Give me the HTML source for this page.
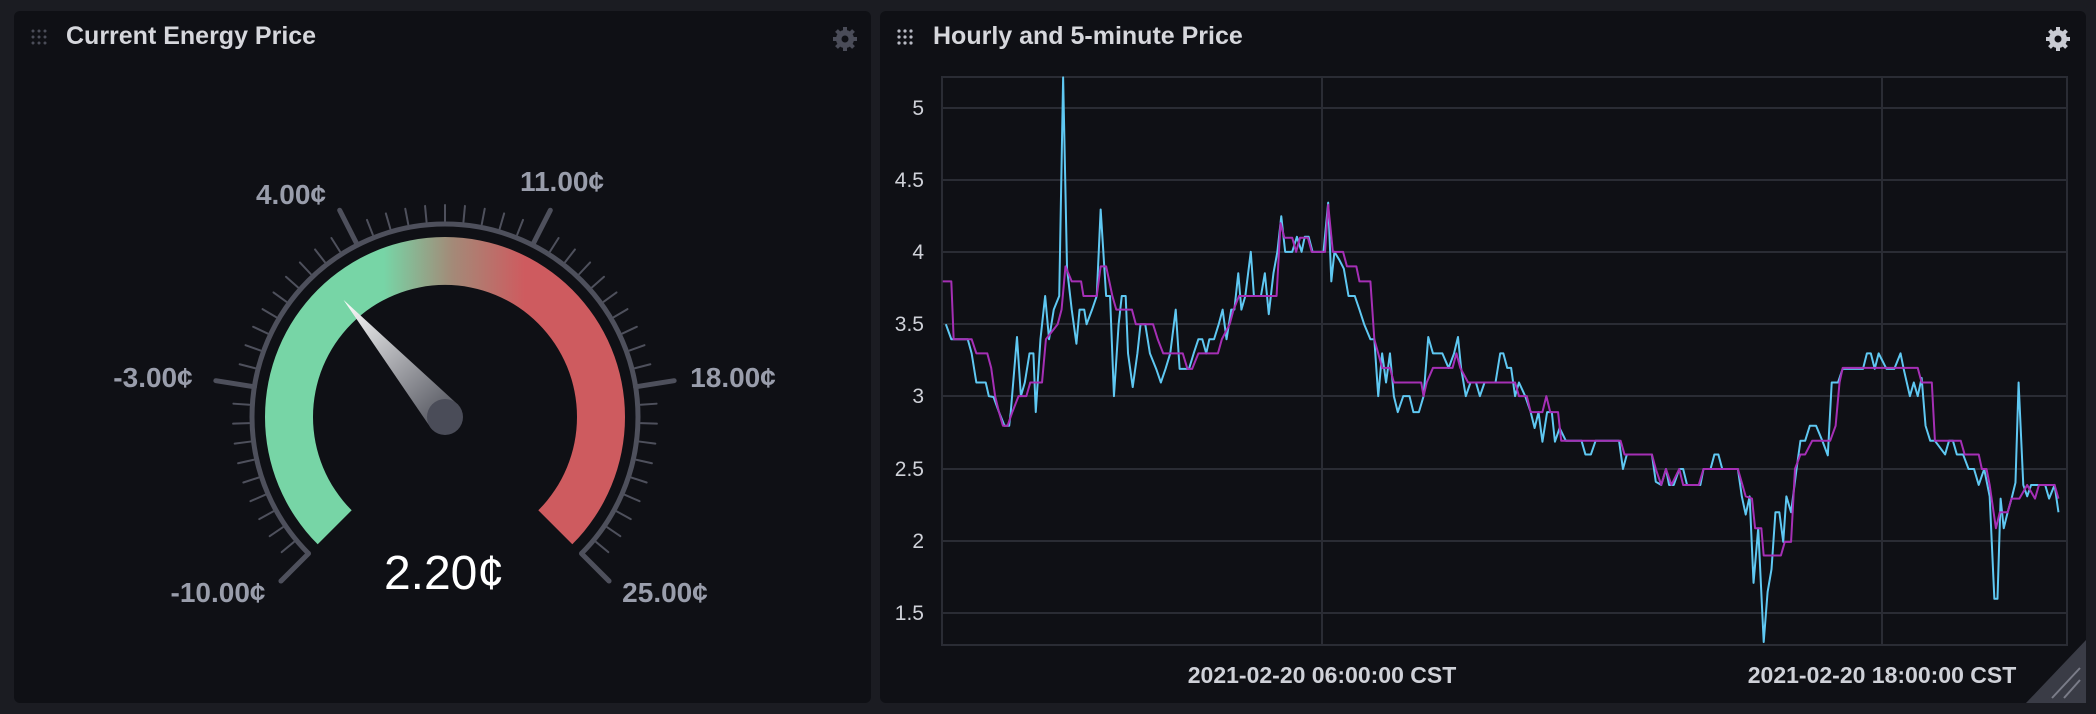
<!DOCTYPE html>
<html><head><meta charset="utf-8">
<style>
html,body{margin:0;padding:0;background:#1b1c22;width:2096px;height:714px;overflow:hidden;font-family:"Liberation Sans",sans-serif;}
.panel{position:absolute;background:#0f1015;border-radius:6px;}
.title{position:absolute;color:#d6d7dc;font-weight:bold;font-size:25px;}
svg{position:absolute;left:0;top:0;}
</style></head><body>
<div class="panel" style="left:14px;top:11px;width:857px;height:692px;"></div>
<div class="panel" style="left:880px;top:11px;width:1206px;height:692px;"></div>
<div class="title" style="left:66px;top:22px;">Current Energy Price</div>
<div class="title" style="left:933px;top:22px;">Hourly and 5-minute Price</div>

<svg width="2096" height="714" viewBox="0 0 2096 714">
<defs>
<linearGradient id="band" gradientUnits="userSpaceOnUse" x1="265" y1="0" x2="625" y2="0">
<stop offset="0" stop-color="#77d5a6"/><stop offset="0.33" stop-color="#77d5a6"/>
<stop offset="0.52" stop-color="#a38a78"/><stop offset="0.72" stop-color="#ce5b5f"/><stop offset="1" stop-color="#ce5b5f"/>
</linearGradient>
<linearGradient id="ndl" gradientUnits="userSpaceOnUse" x1="343" y1="300" x2="455" y2="430">
<stop offset="0" stop-color="#ffffff"/><stop offset="1" stop-color="#464852"/>
</linearGradient>
</defs>
<g fill="#4a4c58">
<circle cx="33" cy="31" r="1.5"/><circle cx="39" cy="31" r="1.5"/><circle cx="45" cy="31" r="1.5"/>
<circle cx="33" cy="37" r="1.5"/><circle cx="39" cy="37" r="1.5"/><circle cx="45" cy="37" r="1.5"/>
<circle cx="33" cy="43" r="1.5"/><circle cx="39" cy="43" r="1.5"/><circle cx="45" cy="43" r="1.5"/>
</g>
<g fill="#b8bac4">
<circle cx="899" cy="31" r="1.6"/><circle cx="905" cy="31" r="1.6"/><circle cx="911" cy="31" r="1.6"/>
<circle cx="899" cy="37" r="1.6"/><circle cx="905" cy="37" r="1.6"/><circle cx="911" cy="37" r="1.6"/>
<circle cx="899" cy="43" r="1.6"/><circle cx="905" cy="43" r="1.6"/><circle cx="911" cy="43" r="1.6"/>
</g>
<g fill="#4a4c58"><circle cx="845" cy="39" r="9"/></g>
<g stroke="#4a4c58" stroke-width="4"><line x1="845" y1="27" x2="845" y2="51"/><line x1="833" y1="39" x2="857" y2="39"/><line x1="836.5" y1="30.5" x2="853.5" y2="47.5"/><line x1="853.5" y1="30.5" x2="836.5" y2="47.5"/></g>
<circle cx="845" cy="39" r="3.5" fill="#0f1015"/>
<g fill="#c9cbd3"><circle cx="2058" cy="39" r="9"/></g>
<g stroke="#c9cbd3" stroke-width="4"><line x1="2058" y1="27" x2="2058" y2="51"/><line x1="2046" y1="39" x2="2070" y2="39"/><line x1="2049.5" y1="30.5" x2="2066.5" y2="47.5"/><line x1="2066.5" y1="30.5" x2="2049.5" y2="47.5"/></g>
<circle cx="2058" cy="39" r="3.5" fill="#0f1015"/>

<path d="M317.7,544.3 A180,180 0 1 1 572.3,544.3 L538.3,510.3 A132,132 0 1 0 351.7,510.3 Z" fill="url(#band)"/>
<path d="M308.5,553.5 A193,193 0 1 1 581.5,553.5" fill="none" stroke="#4e505c" stroke-width="5"/>
<g id="ticks" stroke="#4e505c" stroke-linecap="round"></g>
<polygon points="343.5,299.9 458.6,405.2 431.4,428.8" fill="url(#ndl)"/>
<circle cx="445" cy="417" r="18" fill="#4a4c58"/>
<g font-family="Liberation Sans, sans-serif" font-weight="bold" font-size="28" fill="#999dab" text-anchor="middle">
<text x="218" y="602">-10.00¢</text>
<text x="153" y="387">-3.00¢</text>
<text x="291" y="204">4.00¢</text>
<text x="562" y="191">11.00¢</text>
<text x="733" y="387">18.00¢</text>
<text x="665" y="602">25.00¢</text>
</g>
<text x="444" y="589" font-family="Liberation Sans, sans-serif" font-size="48" fill="#ffffff" text-anchor="middle">2.20¢</text>

<g stroke="#2a2c34" stroke-width="2">
<line x1="942" y1="108" x2="2067" y2="108"/><line x1="942" y1="180" x2="2067" y2="180"/>
<line x1="942" y1="252" x2="2067" y2="252"/><line x1="942" y1="324" x2="2067" y2="324"/>
<line x1="942" y1="396" x2="2067" y2="396"/><line x1="942" y1="469" x2="2067" y2="469"/>
<line x1="942" y1="541" x2="2067" y2="541"/><line x1="942" y1="613" x2="2067" y2="613"/>
<line x1="1322" y1="77" x2="1322" y2="645"/><line x1="1882" y1="77" x2="1882" y2="645"/>
<rect x="942" y="77" width="1125" height="568" fill="none"/>
</g>
<g font-family="Liberation Sans, sans-serif" font-size="21" fill="#cfd1d8" text-anchor="end">
<text x="924" y="115">5</text><text x="924" y="187">4.5</text><text x="924" y="259">4</text>
<text x="924" y="331">3.5</text><text x="924" y="403">3</text><text x="924" y="476">2.5</text>
<text x="924" y="548">2</text><text x="924" y="620">1.5</text>
</g>
<g font-family="Liberation Sans, sans-serif" font-weight="bold" font-size="23" fill="#cfd1d8" text-anchor="middle">
<text x="1322" y="683">2021-02-20 06:00:00 CST</text>
<text x="1882" y="683">2021-02-20 18:00:00 CST</text>
</g>
<polygon points="2086,640 2086,703 2026,703" fill="#3a3c46"/>
<g stroke="#7a7c88" stroke-width="2"><line x1="2052" y1="698" x2="2080" y2="668"/><line x1="2064" y1="698" x2="2080" y2="680"/></g>
</svg>

<svg width="1226" height="714" viewBox="0 0 1568 1568" preserveAspectRatio="none" style="left:870px;top:0;">
<polyline fill="none" stroke="#5fc8f2" stroke-width="2" vector-effect="non-scaling-stroke" stroke-linejoin="round" points="97,712 104,745 125,745 130,776 136,840 148,840 152,870 158,872 165,905 172,935 178,935 180,905 188,740 193,870 198,840 204,776 209,776 212,905 218,745 224,650 229,745 235,680 242,650 247,170 252,590 258,680 264,755 268,680 274,680 277,712 284,680 290,650 295,460 302,650 307,650 312,870 318,712 322,650 327,650 330,776 336,850 342,776 346,712 352,712 358,776 366,810 372,840 378,810 384,776 391,680 396,810 402,810 408,810 414,776 420,745 425,745 430,776 434,745 440,745 446,712 451,680 456,745 462,680 466,680 471,600 475,680 480,650 487,553 491,650 500,650 505,600 510,690 516,600 521,553 526,475 531,553 540,553 546,520 552,553 556,520 561,520 566,553 580,553 586,445 590,618 594,553 600,570 606,590 612,650 620,650 626,680 632,712 640,745 645,745 650,870 655,776 660,840 665,776 670,870 675,905 682,870 690,870 695,905 702,905 708,870 714,740 720,776 732,776 740,808 747,776 752,740 756,808 762,870 768,840 775,840 780,870 786,840 800,840 806,776 810,776 815,808 820,808 825,870 830,840 838,870 845,905 850,940 855,905 860,970 866,905 872,905 876,970 882,940 890,968 910,968 915,998 922,998 928,968 958,968 963,1030 968,998 1000,998 1005,1058 1012,1065 1018,1030 1022,1065 1028,1065 1035,1030 1040,1030 1045,1065 1062,1065 1066,1030 1075,1030 1080,998 1085,998 1090,1030 1110,1030 1115,1090 1120,1130 1125,1090 1130,1280 1136,1160 1143,1410 1148,1300 1153,1250 1158,1125 1163,1125 1168,1190 1172,1090 1178,1125 1185,1030 1190,968 1196,968 1202,935 1210,935 1218,968 1225,1000 1230,840 1238,840 1244,810 1270,810 1275,776 1280,776 1285,810 1290,776 1300,810 1310,810 1318,776 1322,810 1330,870 1335,840 1340,870 1345,830 1350,935 1356,968 1362,968 1375,998 1380,968 1385,968 1390,998 1398,998 1405,1030 1412,1030 1418,1065 1425,1030 1432,1090 1438,1315 1442,1315 1446,1095 1450,1160 1455,1125 1460,1095 1465,1060 1469,840 1475,1065 1480,1090 1485,1065 1495,1065 1503,1065 1508,1095 1515,1065 1520,1125"/>
<polyline fill="none" stroke="#a52fb5" stroke-width="2" vector-effect="non-scaling-stroke" stroke-linejoin="round" points="93,618 104,618 107,745 130,745 136,776 150,776 155,808 160,870 165,905 170,935 176,935 182,905 190,870 200,870 205,840 220,840 225,745 240,712 245,680 250,585 258,618 270,618 273,650 290,650 295,585 302,585 310,650 315,680 335,680 340,712 362,712 368,745 375,776 400,776 406,810 412,810 420,776 445,776 450,745 460,712 465,680 472,650 520,650 525,490 530,522 540,522 545,553 550,522 560,522 565,553 582,553 586,450 592,553 605,553 610,585 622,585 626,618 640,618 645,745 650,776 655,808 665,808 670,840 705,840 708,870 712,840 720,808 745,808 750,776 755,808 765,840 770,840 825,840 830,870 840,870 845,905 860,905 865,870 870,905 880,905 884,968 960,968 965,998 1000,998 1005,1030 1012,1065 1018,1030 1025,1065 1035,1030 1040,1065 1060,1065 1066,1030 1110,1030 1120,1090 1128,1095 1132,1160 1140,1160 1143,1220 1165,1220 1170,1190 1178,1190 1183,1030 1190,998 1196,998 1205,968 1228,968 1235,935 1240,840 1244,808 1340,808 1345,840 1358,840 1362,968 1395,968 1400,998 1418,998 1422,1030 1428,1030 1432,1065 1440,1160 1445,1125 1455,1125 1460,1095 1470,1095 1480,1065 1490,1095 1495,1065 1515,1065 1520,1095"/>
</svg>

<script>
(function(){
var g=document.getElementById('ticks'),cx=445,cy=417,s='';
for(var i=0;i<=50;i++){
 var a=(-135+i*5.4)*Math.PI/180,sn=Math.sin(a),cs=Math.cos(a);
 var maj=(i%10===0),r1=maj?193:196,r2=maj?232:212;
 s+='<line x1="'+(cx+r1*sn)+'" y1="'+(cy-r1*cs)+'" x2="'+(cx+r2*sn)+'" y2="'+(cy-r2*cs)+'" stroke-width="'+(maj?5:2)+'"/>';
}
g.innerHTML=s;
})();
</script>
</body></html>
